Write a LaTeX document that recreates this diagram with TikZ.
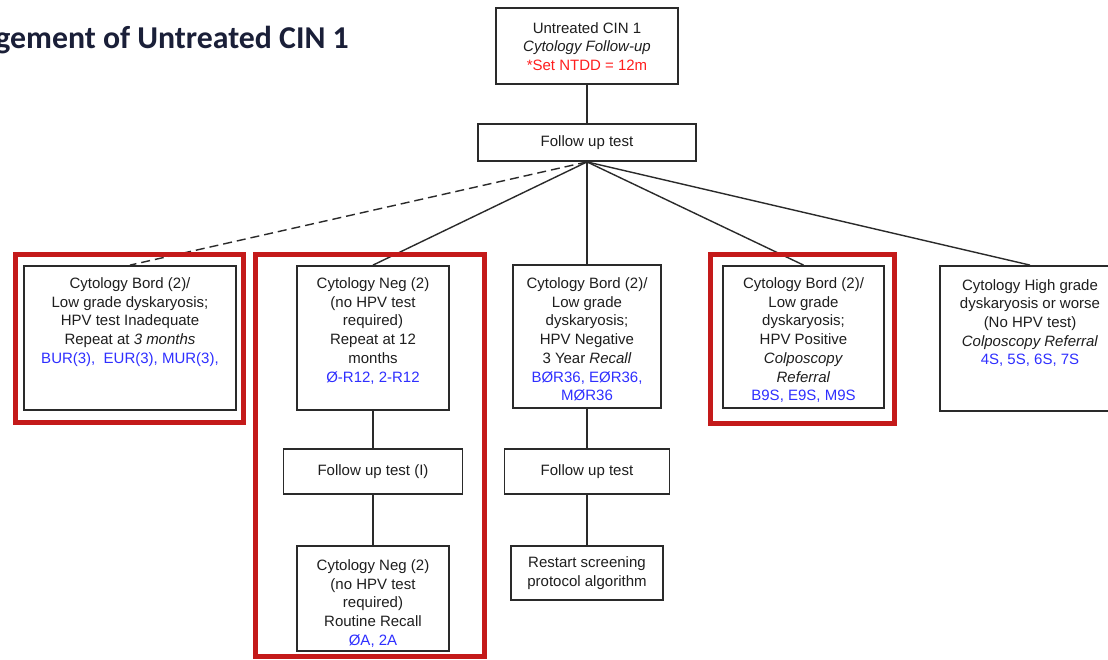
\documentclass[tikz,border=0pt]{standalone}
\usepackage{fontspec}
\setmainfont{Liberation Sans}
\newfontfamily\titlefont{Carlito}
\definecolor{boxgray}{HTML}{2A2A2A}
\definecolor{txt}{HTML}{1E1E1E}
\definecolor{codeblue}{HTML}{2F2FFF}
\definecolor{nred}{HTML}{FF1E1E}
\definecolor{framered}{HTML}{C41A1A}
\definecolor{titlec}{HTML}{1A1F38}
\newcommand{\tb}[4]{\parbox[c][#2pt][t]{#1pt}{\centering\rule{0pt}{#3pt}#4}}
\begin{document}
\begin{tikzpicture}[x=1pt,y=-1pt,
  box/.style={draw=boxgray, line width=1.8pt, inner sep=0pt, text=txt, fill=white,
    font=\fontsize{15}{18.7}\selectfont, align=center},
  frame/.style={draw=framered, line width=5pt},
  conn/.style={draw=boxgray, line width=1.4pt},
  dconn/.style={conn, dash pattern=on 9pt off 5pt}]
\clip (0,0) rectangle (1108,659);
\fill[white] (0,0) rectangle (1108,659);

\node[font=\titlefont\bfseries\fontsize{31.8}{38}\selectfont, text=titlec, anchor=base east, inner sep=0pt] (title) at (349,48) {gement of Untreated CIN 1};

\node[box] (top) at (587,46) {\tb{182}{76}{25}{Untreated CIN 1\\\textit{Cytology Follow-up}\\\textcolor{nred}{*Set NTDD = 12m}}};
\node[box, minimum width=218pt, minimum height=37pt] (fu) at (587,142.5) {Follow up test};

\node[box] (b1) at (130,338) {\tb{212}{144}{22.5}{Cytology Bord (2)/\\Low grade dyskaryosis;\\HPV test Inadequate\\Repeat at \textit{3 months}\\\textcolor{codeblue}{BUR(3),\ \ EUR(3), MUR(3),}}};
\node[box] (b2) at (373,338) {\tb{152}{144}{22.5}{Cytology Neg (2)\\(no HPV test\\required)\\Repeat at 12\\months\\\textcolor{codeblue}{Ø-R12, 2-R12}}};
\node[box] (b3) at (587,336.5) {\tb{148}{143}{23.5}{Cytology Bord (2)/\\Low grade\\dyskaryosis;\\HPV Negative\\3 Year \textit{Recall}\\\textcolor{codeblue}{BØR36, EØR36,}\\\textcolor{codeblue}{MØR36}}};
\node[box] (b4) at (803.5,337) {\tb{161}{142}{22.5}{Cytology Bord (2)/\\Low grade\\dyskaryosis;\\HPV Positive\\\textit{Colposcopy}\\\textit{Referral}\\\textcolor{codeblue}{B9S, E9S, M9S}}};
\node[box] (b5) at (1030,338.5) {\tb{180}{145}{24}{Cytology High grade\\dyskaryosis or worse\\(No HPV test)\\\textit{Colposcopy Referral}\\\textcolor{codeblue}{4S, 5S, 6S, 7S}}};

\node[box, minimum width=179pt, minimum height=45pt] (fuI) at (373,471.5) {Follow up test (I)};
\node[box, minimum width=165pt, minimum height=45pt] (fu2) at (587,471.5) {Follow up test};
\node[box] (neg2) at (373,598.5) {\tb{152}{105}{24.5}{Cytology Neg (2)\\(no HPV test\\required)\\Routine Recall\\\textcolor{codeblue}{ØA, 2A}}};
\node[box, minimum width=152pt, minimum height=54pt] (restart) at (587,573) {Restart screening\\protocol algorithm};

\draw[conn] (top.south) -- (fu.north);
\draw[dconn] (fu.south) -- (b1.north);
\draw[conn] (fu.south) -- (b2.north);
\draw[conn] (fu.south) -- (b3.north);
\draw[conn] (fu.south) -- (b4.north);
\draw[conn] (fu.south) -- (b5.north);
\draw[conn] (b2.south) -- (fuI.north);
\draw[conn] (fuI.south) -- (neg2.north);
\draw[conn] (b3.south) -- (fu2.north);
\draw[conn] (fu2.south) -- (restart.north);

\draw[frame] (15,254) rectangle (243,422);
\draw[frame] (255,254) rectangle (484,656.5);
\draw[frame] (710,254) rectangle (894,423);
\end{tikzpicture}
\end{document}
